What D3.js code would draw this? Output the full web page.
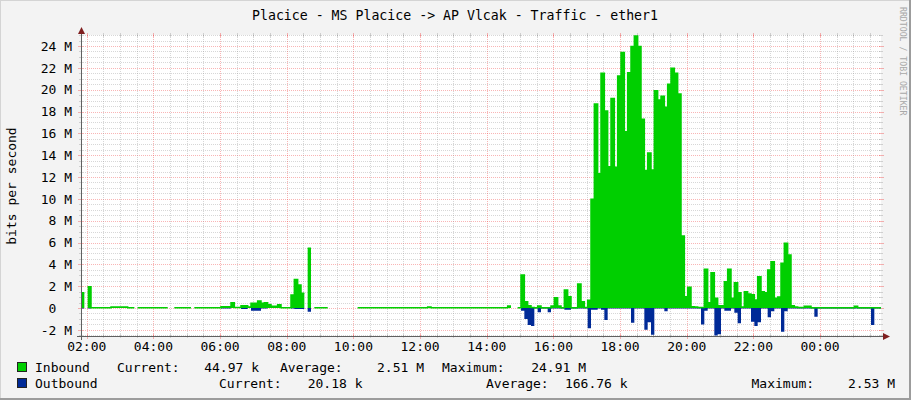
<!DOCTYPE html>
<html>
<head>
<meta charset="utf-8">
<script src="https://cdn.jsdelivr.net/npm/d3@7"></script>
<style>
  body { margin: 0; background: #fff; }
  text { font-family: "DejaVu Sans Mono", monospace; white-space: pre; }
</style>
</head>
<body>
<script>
const width = 911;
const height = 400;

// 6 minute samples, 240 per day, first one at 01:49:40
const stepMinutes = 6;
const startTime = new Date(2024, 0, 1, 1, 49, 40);

// inbound traffic in Mbit/s (null = no data)
const inbound = [
  1.4, null, 1.95, 0.03, 0.03, 0.03, 0.03, 0.03, 0.03, 0.1,
  0.1, 0.1, 0.1, 0.1, 0.03, 0.03, null, 0.03, 0.03, 0.03,
  0.03, 0.03, 0.03, 0.03, 0.03, 0.03, null, null, 0.03, 0.03,
  0.03, 0.03, 0.03, null, 0.03, 0.03, 0.03, 0.03, 0.03, 0.03,
  0.03, 0.03, 0.12, 0.12, 0.12, 0.49, 0.05, 0.05, 0.2, 0.2,
  0.1, 0.43, 0.43, 0.64, 0.43, 0.49, 0.3, 0.15, 0.15, 0.3,
  0.03, 0.03, 0.03, 1.2, 2.6, 2.1, 1.34, null, 5.47, null,
  0.03, 0.03, 0.03, 0.03, null, null, null, null, null, null,
  null, null, null, 0.03, 0.03, 0.03, 0.03, 0.03, 0.03, 0.03,
  0.03, 0.03, 0.03, 0.03, 0.03, 0.03, 0.03, 0.03, 0.03, 0.03,
  0.03, 0.03, 0.03, 0.03, 0.1, 0.03, 0.03, 0.03, 0.03, 0.03,
  0.03, 0.03, 0.03, 0.03, 0.03, 0.03, 0.03, 0.03, 0.03, 0.03,
  0.03, 0.03, 0.03, 0.03, 0.03, 0.03, 0.03, 0.03, 0.18, null,
  null, 0.03, 3.02, 0.58, 0.2, 0.05, 0.03, 0.18, 0.03, 0.03,
  0.03, 0.18, 0.95, 0.18, 0.03, 1.65, 1.04, 0.03, 0.03, 2.2,
  0.58, 0.05, 0.7, 9.96, 18.7, 12.3, 21.5, 18.05, 12.95, 19.2,
  12.9, 21.25, 23.4, 16.15, 21.56, 23.95, 24.91, 23.95, 17.3, 12.6,
  14.2, 12.64, 19.9, 19.06, 19.4, 18.4, 20.5, 21.96, 21.5, 19.6,
  6.6, 1.04, 1.9, 0.12, 0.1, 0.05, 0.05, 3.55, 0.49, 3.23,
  0.89, 0.2, 0.2, 2.41, 3.55, 0.89, 2.32, 1.4, 0.1, 1.5,
  1.28, 1.22, 0.73, 2.87, 1.5, 1.4, 3.48, 4.24, 0.89, 1.0,
  4.1, 5.93, 4.86, 0.2, 0.1, 0.05, 0.05, 0.15, 0.15, 0.03,
  0.03, 0.03, 0.03, 0.03, 0.03, 0.03, 0.03, 0.03, 0.03, 0.03,
  0.03, 0.03, 0.15, 0.03, 0.03, 0.03, 0.03, 0.03, 0.03, 0.03
];

// outbound traffic in Mbit/s, drawn below zero
const outbound = [
  -0.05, null, -0.05, -0.01, -0.01, -0.01, -0.01, -0.01, -0.01, -0.01,
  -0.01, -0.01, -0.01, -0.01, -0.01, -0.01, null, -0.01, -0.01, -0.01,
  -0.01, -0.01, -0.01, -0.01, -0.01, -0.01, null, null, -0.01, -0.01,
  -0.01, -0.01, -0.01, null, -0.01, -0.01, -0.01, -0.01, -0.01, -0.01,
  -0.01, -0.01, -0.05, -0.05, -0.05, -0.01, -0.01, -0.01, -0.1, -0.1,
  -0.01, -0.25, -0.25, -0.25, -0.05, -0.05, -0.01, -0.01, -0.01, -0.01,
  -0.01, -0.01, -0.01, -0.05, -0.1, -0.1, -0.1, null, -0.34, null,
  -0.01, -0.01, -0.01, -0.01, null, null, null, null, null, null,
  null, null, null, -0.01, -0.01, -0.01, -0.01, -0.01, -0.01, -0.01,
  -0.01, -0.01, -0.01, -0.01, -0.01, -0.01, -0.01, -0.01, -0.01, -0.01,
  -0.01, -0.01, -0.01, -0.01, -0.01, -0.01, -0.01, -0.01, -0.01, -0.01,
  -0.01, -0.01, -0.01, -0.01, -0.01, -0.01, -0.01, -0.01, -0.01, -0.01,
  -0.01, -0.01, -0.01, -0.01, -0.01, -0.01, -0.01, -0.01, -0.01, null,
  null, -0.01, -0.25, -1.0, -1.56, -1.65, -0.05, -0.4, -0.05, -0.05,
  -0.4, -0.05, -0.05, -0.05, -0.05, -0.15, -0.15, -0.05, -0.05, -0.05,
  -0.05, -0.05, -1.86, -0.15, -0.15, -0.05, -0.15, -1.1, -0.05, -0.05,
  -0.05, -0.05, -0.05, -0.05, -0.05, -1.34, -0.05, -0.05, -0.05, -2.0,
  -1.3, -2.45, -0.05, -0.05, -0.05, -0.3, -0.05, -0.05, -0.05, -0.05,
  -0.05, -0.05, -0.05, -0.05, -0.05, -0.05, -1.5, -0.25, -0.05, -0.05,
  -2.53, -2.4, -0.05, -0.25, -0.25, -0.05, -0.43, -1.4, -0.05, -0.05,
  -0.05, -1.25, -1.65, -1.3, -0.05, -0.05, -0.85, -0.3, -0.05, -0.05,
  -2.17, -0.3, -0.05, -0.05, -0.05, -0.05, -0.05, -0.05, -0.05, -0.05,
  -0.8, -0.05, -0.05, -0.05, -0.05, -0.05, -0.05, -0.05, -0.05, -0.05,
  -0.05, -0.05, -0.05, -0.05, -0.05, -0.05, -0.05, -1.56, -0.05, -0.05
];

const yTicks = [-2, 0, 2, 4, 6, 8, 10, 12, 14, 16, 18, 20, 22, 24];

const title = "Placice - MS Placice -> AP Vlcak - Traffic - ether1";
const legendIn = ["Inbound", "Current:", "44.97 k", "Average:", "2.51 M", "Maximum:", "24.91 M"];
const legendOut = ["Outbound", "Current:", "20.18 k", "Average:", "166.76 k", "Maximum:", "2.53 M"];

const plot = { left: 81, right: 881, top: 35, bottom: 336 };

const svg = d3.select("body")
    .append("svg")
    .attr("width", width)
    .attr("height", height);

// background and shaded border
svg.append("rect").attr("width", width).attr("height", height).attr("fill", "#f3f3f3");
svg.append("path").attr("d", "M0,0.5H911M0.5,0V400").attr("stroke", "#d4d4d4").attr("stroke-width", 1);
svg.append("path").attr("d", "M0,399H911M910,0V400").attr("stroke", "#9c9c9c").attr("stroke-width", 2);
svg.append("rect")
    .attr("x", plot.left).attr("y", plot.top)
    .attr("width", plot.right - plot.left).attr("height", plot.bottom - plot.top)
    .attr("fill", "#fff");

const x = d3.scaleTime()
    .domain([startTime, d3.timeMinute.offset(startTime, 24 * 60)])
    .range([plot.left, plot.right]);

const y = d3.scaleLinear()
    .domain([-2.565, 25.01])
    .range([plot.bottom, plot.top]);

// grid
const minorColor = "rgba(130,130,130,0.32)";
const majorColor = "rgba(240,60,60,0.38)";
const grid = svg.append("g").attr("shape-rendering", "crispEdges");

const yMinor = d3.range(-2.5, 25.01, 0.5).filter(v => Math.abs(v % 2) > 0.01);
yMinor.forEach(v => {
    const yy = Math.round(y(v)) + 0.5;
    grid.append("line").attr("x1", plot.left).attr("x2", plot.right).attr("y1", yy).attr("y2", yy)
        .attr("stroke", minorColor).attr("stroke-dasharray", "1,1");
    grid.append("path").attr("d", `M${plot.left - 2},${yy}h4M${plot.right - 2},${yy}h4`).attr("stroke", minorColor);
});
yTicks.forEach(v => {
    const yy = Math.round(y(v)) + 0.5;
    grid.append("line").attr("x1", plot.left).attr("x2", plot.right).attr("y1", yy).attr("y2", yy)
        .attr("stroke", majorColor).attr("stroke-dasharray", "1,1");
    grid.append("path").attr("d", `M${plot.left - 3},${yy}h5M${plot.right - 2},${yy}h5`).attr("stroke", majorColor);
});

const xMinor = x.ticks(d3.timeMinute.every(30)).filter(d => !(d.getMinutes() === 0 && d.getHours() % 2 === 0));
const xMajor = x.ticks(d3.timeHour.every(2));
xMinor.forEach(d => {
    const xx = Math.round(x(d)) + 0.5;
    grid.append("line").attr("x1", xx).attr("x2", xx).attr("y1", plot.top).attr("y2", plot.bottom)
        .attr("stroke", minorColor).attr("stroke-dasharray", "1,1");
    grid.append("path").attr("d", `M${xx},${plot.top - 2}v4M${xx},${plot.bottom - 2}v4`).attr("stroke", minorColor);
});
xMajor.forEach(d => {
    const xx = Math.round(x(d)) + 0.5;
    grid.append("line").attr("x1", xx).attr("x2", xx).attr("y1", plot.top).attr("y2", plot.bottom)
        .attr("stroke", majorColor).attr("stroke-dasharray", "1,1");
    grid.append("path").attr("d", `M${xx},${plot.top - 2}v4M${xx},${plot.bottom - 2}v5`).attr("stroke", majorColor);
});

// step points: every sample is flat over its 6 minutes
function steps(values) {
    const pts = [];
    values.forEach((v, i) => {
        const t0 = d3.timeMinute.offset(startTime, i * stepMinutes);
        const t1 = d3.timeMinute.offset(startTime, (i + 1) * stepMinutes);
        pts.push([t0, v], [t1, v]);
    });
    return pts;
}

const area = d3.area()
    .defined(d => d[1] !== null)
    .x(d => x(d[0]))
    .y0(y(0))
    .y1(d => y(d[1]));

const line = d3.line()
    .defined(d => d[1] !== null)
    .x(d => x(d[0]))
    .y(d => y(d[1]));

svg.append("clipPath").attr("id", "clip")
    .append("rect").attr("x", plot.left).attr("y", plot.top)
    .attr("width", plot.right - plot.left).attr("height", plot.bottom - plot.top);

const marks = svg.append("g").attr("clip-path", "url(#clip)");
marks.append("path").datum(steps(outbound)).attr("d", area).attr("fill", "#002a97");
marks.append("path").datum(steps(inbound)).attr("d", area).attr("fill", "#00cf00");
marks.append("path").datum(steps(inbound)).attr("d", line)
    .attr("fill", "none").attr("stroke", "#00cf00").attr("stroke-width", 1.5);

// axes
const axisColor = "#606060";
const arrowColor = "#7f1f1f";
svg.append("path").attr("d", `M${plot.left - 4},${plot.bottom + 0.5}H${plot.right + 3}`)
    .attr("stroke", axisColor).attr("shape-rendering", "crispEdges");
svg.append("path").attr("d", `M${plot.left + 0.5},${plot.bottom + 4}V${plot.top - 3}`)
    .attr("stroke", axisColor).attr("shape-rendering", "crispEdges");
svg.append("path").attr("d", `M${plot.left + 0.5},${plot.top - 8}l-3.5,7h7z`).attr("fill", arrowColor);
svg.append("path").attr("d", `M${plot.right + 9},${plot.bottom + 0.5}l-7,-3.5v7z`).attr("fill", arrowColor);

// tick labels
svg.append("g").selectAll("text")
    .data(yTicks)
    .join("text")
    .attr("x", 72)
    .attr("y", d => y(d) + 4.7)
    .attr("text-anchor", "end")
    .attr("font-size", 13)
    .text(d => d === 0 ? "0\u00a0\u00a0" : d + " M");

svg.append("g").selectAll("text")
    .data(xMajor)
    .join("text")
    .attr("x", d => x(d))
    .attr("y", 351)
    .attr("text-anchor", "middle")
    .attr("font-size", 13)
    .text(d3.timeFormat("%H:%M"));

// titles
svg.append("text")
    .attr("x", 455).attr("y", 20)
    .attr("text-anchor", "middle")
    .attr("font-size", 14)
    .attr("textLength", 406)
    .attr("lengthAdjust", "spacingAndGlyphs")
    .text(title);

svg.append("text")
    .attr("transform", "translate(16,186) rotate(-90)")
    .attr("text-anchor", "middle")
    .attr("font-size", 13)
    .text("bits per second");

svg.append("text")
    .attr("transform", "translate(900,7) rotate(90)")
    .attr("font-size", 8.2)
    .attr("fill", "#a8a8a8")
    .text("RRDTOOL / TOBI OETIKER");

// legend
const legendRows = [
    { texts: legendIn, color: "#00cf00", y: 372, pos: [35, 117, 259, 280, 424, 442, 586] },
    { texts: legendOut, color: "#002a97", y: 388, pos: [35, 219, 362.5, 486, 627.6, 751.5, 895] }
];
legendRows.forEach(row => {
    svg.append("rect")
        .attr("x", 17.5).attr("y", row.y - 9.5)
        .attr("width", 9).attr("height", 9)
        .attr("fill", row.color).attr("stroke", "#222").attr("stroke-width", 1);
    row.texts.forEach((t, i) => {
        svg.append("text")
            .attr("x", row.pos[i])
            .attr("y", row.y)
            .attr("font-size", 13)
            .attr("text-anchor", (i % 2 === 0 && i > 0) ? "end" : "start")
            .text(t);
    });
});
</script>
</body>
</html>
